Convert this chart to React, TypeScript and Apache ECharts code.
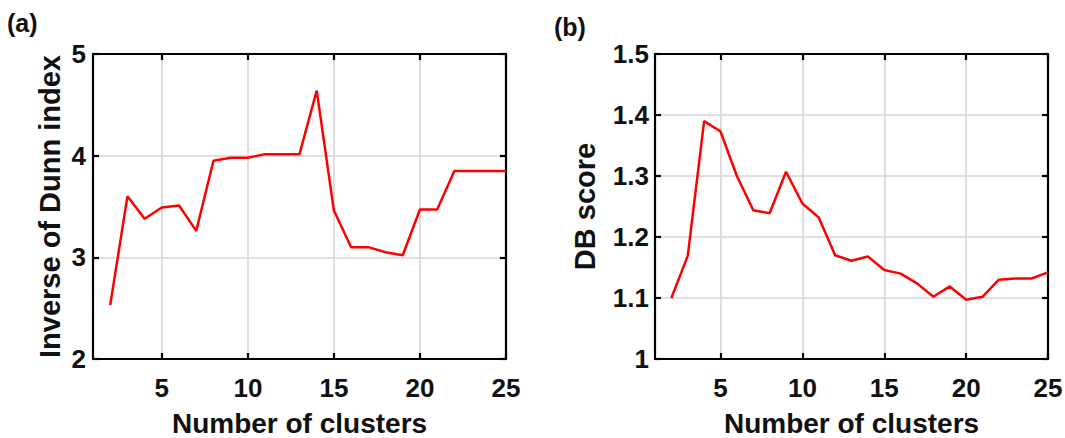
import React, { useEffect, useRef } from "react";
import * as echarts from "echarts";

const clusters = [2, 3, 4, 5, 6, 7, 8, 9, 10, 11, 12, 13, 14, 15, 16, 17, 18, 19, 20, 21, 22, 23, 24, 25];
const dunnInverse = [2.53, 3.6, 3.38, 3.49, 3.51, 3.26, 3.95, 3.98, 3.98, 4.015, 4.015, 4.015, 4.64, 3.46, 3.1, 3.1, 3.05, 3.02, 3.47, 3.47, 3.85, 3.85, 3.85, 3.85];
const dbScore = [1.1, 1.169, 1.39, 1.373, 1.3, 1.244, 1.239, 1.307, 1.255, 1.232, 1.17, 1.161, 1.168, 1.146, 1.14, 1.124, 1.102, 1.119, 1.097, 1.102, 1.13, 1.132, 1.132, 1.142];
const xTicks = [5, 10, 15, 20, 25];

const FONT = "'Liberation Sans', Arial, sans-serif";

export default function App() {
  const ref = useRef<HTMLDivElement>(null);
  useEffect(() => {
    if (!ref.current) return;
    const chart = echarts.init(ref.current, null, { renderer: "svg" });
    const tickStyle = { show: true, inside: true, length: 6, lineStyle: { color: "#000", width: 2.2 } };
    const axisLine = { show: true, onZero: false, lineStyle: { color: "#000", width: 2.2 } };
    const gridLine = { show: true, lineStyle: { color: "#d6d6d6", width: 1.6 } };
    const labelStyle = { fontFamily: FONT, fontWeight: "bold" as const, fontSize: 26, color: "#111" };
    const nameStyle = { fontFamily: FONT, fontWeight: "bold" as const, fontSize: 28, color: "#111" };
    const xBottom = (gi: number) => ({
      type: "value" as const,
      gridIndex: gi,
      min: 1,
      max: 25,
      position: "bottom" as const,
      axisLine,
      axisTick: { ...tickStyle, customValues: xTicks },
      axisLabel: { ...labelStyle, margin: 16, customValues: xTicks },
      splitLine: gridLine,
      name: "Number of clusters",
      nameLocation: "middle" as const,
      nameGap: 50,
      nameTextStyle: nameStyle,
      z: 3,
    });
    const xTop = (gi: number) => ({
      type: "value" as const,
      gridIndex: gi,
      min: 1,
      max: 25,
      position: "top" as const,
      axisLine,
      axisTick: { ...tickStyle, customValues: xTicks },
      axisLabel: { show: false, customValues: xTicks },
      splitLine: { show: false },
      z: 3,
    });
    const option = {
      animation: false,
      grid: [
        { left: 93, top: 54, width: 413, height: 305, show: false, containLabel: false, outerBoundsMode: "none" },
        { left: 655, top: 54, width: 393, height: 305, show: false, containLabel: false, outerBoundsMode: "none" },
      ],
      xAxis: [xBottom(0), xTop(0), xBottom(1), xTop(1)],
      yAxis: [
        {
          type: "value", gridIndex: 0, min: 2, max: 5, interval: 1, position: "left",
          axisLine, axisTick: tickStyle,
          axisLabel: { ...labelStyle, margin: 7 }, splitLine: gridLine,
          name: "Inverse of Dunn index", nameLocation: "middle", nameGap: 29,
          nameTextStyle: { ...nameStyle, fontSize: 29 }, z: 3,
        },
        {
          type: "value", gridIndex: 0, min: 2, max: 5, interval: 1, position: "right",
          axisLine, axisTick: tickStyle, axisLabel: { show: false }, splitLine: { show: false }, z: 3,
        },
        {
          type: "value", gridIndex: 1, min: 1, max: 1.5, interval: 0.1, position: "left",
          axisLine, axisTick: tickStyle,
          axisLabel: { ...labelStyle, margin: 6 }, splitLine: gridLine,
          name: "DB score", nameLocation: "middle", nameGap: 56,
          nameTextStyle: { ...nameStyle, fontSize: 29 }, z: 3,
        },
        {
          type: "value", gridIndex: 1, min: 1, max: 1.5, interval: 0.1, position: "right",
          axisLine, axisTick: tickStyle, axisLabel: { show: false }, splitLine: { show: false }, z: 3,
        },
      ],
      series: [
        {
          type: "line", xAxisIndex: 0, yAxisIndex: 0,
          data: clusters.map((c, i) => [c, dunnInverse[i]]),
          showSymbol: false, symbol: "none",
          lineStyle: { color: "#ff0000", width: 2.5 },
        },
        {
          type: "line", xAxisIndex: 2, yAxisIndex: 2,
          data: clusters.map((c, i) => [c, dbScore[i]]),
          showSymbol: false, symbol: "none",
          lineStyle: { color: "#ff0000", width: 2.5 },
        },
      ],
      graphic: [
        { type: "text", left: 7, top: 10, style: { text: "(a)", font: `bold 25px ${FONT}`, fill: "#111" } },
        { type: "text", left: 554, top: 14, style: { text: "(b)", font: `bold 25px ${FONT}`, fill: "#111" } },
      ],
    };
    chart.setOption(option as any);
    return () => chart.dispose();
  }, []);
  return <div ref={ref} style={{ position: "fixed", left: 0, top: 0, width: 1065, height: 438, background: "#fff" }} />;
}
